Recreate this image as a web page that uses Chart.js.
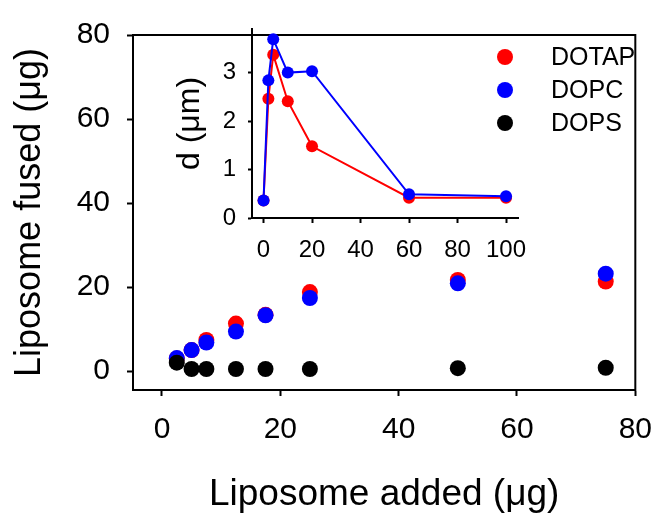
<!DOCTYPE html>
<html>
<head>
<meta charset="utf-8">
<title>Liposome fusion</title>
<script src="https://cdn.jsdelivr.net/npm/chart.js@4/dist/chart.umd.min.js"></script>
<style>
  body { margin: 0; background: #fff; }
  #wrap { position: relative; width: 668px; height: 517px; }
  #main { position: absolute; left: 0; top: 0; }
  #inset { position: absolute; left: 160px; top: 0; }
  #legend { position: absolute; left: 497px; top: 40px; font: 25px "Liberation Sans", Arial, sans-serif; color: #000; }
  #legend .item { height: 33px; display: flex; align-items: center; }
  #legend .dot { width: 16px; height: 16px; border-radius: 50%; margin-right: 38px; }
</style>
</head>
<body>
<div id="wrap">
  <canvas id="main" width="668" height="517"></canvas>
  <canvas id="inset" width="380" height="270"></canvas>
  <div id="legend"></div>
</div>
<script>
// main plot: liposome added vs fused (ug)
const addedUg = [2.5, 5, 7.5, 12.5, 17.5, 25, 50, 75];
const fusedDOTAP = [3.0, 5.0, 7.4, 11.3, 13.4, 18.8, 21.7, 21.3];
const fusedDOPC = [3.1, 5.0, 6.8, 9.4, 13.3, 17.4, 20.9, 23.2];
const fusedDOPS = [2.0, 0.5, 0.5, 0.5, 0.5, 0.5, 0.7, 0.8];

// inset: particle size d (um)
const insetX = [0, 2, 4, 10, 20, 60, 100];
const sizeDOTAP = [0.36, 2.46, 3.37, 2.41, 1.48, 0.42, 0.42];
const sizeDOPC = [0.36, 2.84, 3.69, 3.00, 3.03, 0.49, 0.45];

const seriesNames = ['DOTAP', 'DOPC', 'DOPS'];
const seriesColors = ['#ff0000', '#0000ff', '#000000'];

const mainXTicks = [0, 20, 40, 60, 80];
const mainYTicks = [0, 20, 40, 60, 80];
const insetXTicks = [0, 20, 40, 60, 80, 100];
const insetYTicks = [0, 1, 2, 3];

Chart.defaults.font.family = '"Liberation Sans", Arial, sans-serif';
Chart.defaults.color = '#000';

const pairs = (xs, ys) => xs.map((x, i) => ({ x: x, y: ys[i] }));

const frame = {
    id: 'frame',
    afterDraw(chart) {
        const { ctx, chartArea: a } = chart;
        ctx.save();
        ctx.strokeStyle = '#000';
        ctx.lineWidth = 2;
        ctx.strokeRect(a.left, a.top, a.right - a.left, a.bottom - a.top);
        ctx.restore();
    }
};

function axis(min, max, tickValues, opts) {
    return {
        type: 'linear',
        min: min,
        max: max,
        afterBuildTicks: s => { s.ticks = tickValues.map(v => ({ value: v })); },
        afterFit: opts.fit,
        border: { color: '#000', width: 2 },
        grid: { drawOnChartArea: false, tickLength: opts.tick, tickColor: '#000', tickWidth: 2 },
        ticks: { color: '#000', padding: opts.pad, font: { size: opts.size } },
        title: {
            display: true,
            text: opts.title,
            color: '#000',
            font: { size: opts.titleSize },
            padding: opts.titlePad
        }
    };
}

const mainData = [fusedDOTAP, fusedDOPC, fusedDOPS];

new Chart(document.querySelector('#main'), {
    type: 'scatter',
    data: {
        datasets: seriesNames.map((name, i) => ({
            label: name,
            data: pairs(addedUg, mainData[i]),
            backgroundColor: seriesColors[i],
            borderWidth: 0,
            pointRadius: 8,
            order: 3 - i
        }))
    },
    options: {
        responsive: false,
        animation: false,
        layout: { padding: { top: 29, right: 20, left: 0, bottom: 0 } },
        plugins: { legend: { display: false }, tooltip: { enabled: false } },
        scales: {
            x: axis(-4.9, 80, mainXTicks, {
                fit: s => { s.height = 127; },
                tick: 6, pad: 16, size: 30,
                title: 'Liposome added (μg)', titleSize: 37, titlePad: { top: 0, bottom: 0 }
            }),
            y: axis(-4.5, 80, mainYTicks, {
                fit: s => { s.width = 133; },
                tick: 6, pad: 17, size: 30,
                title: 'Liposome fused (μg)', titleSize: 36, titlePad: { top: 8, bottom: 0 }
            })
        }
    },
    plugins: [frame]
});

const insetData = [sizeDOTAP, sizeDOPC];

new Chart(document.querySelector('#inset'), {
    type: 'line',
    data: {
        datasets: insetData.map((ys, i) => ({
            label: seriesNames[i],
            data: pairs(insetX, ys),
            borderColor: seriesColors[i],
            backgroundColor: seriesColors[i],
            borderWidth: 2,
            pointRadius: 6,
            pointBorderWidth: 0,
            tension: 0,
            order: 2 - i
        }))
    },
    options: {
        responsive: false,
        animation: false,
        layout: { padding: { top: 29, right: 20, left: 0, bottom: 0 } },
        plugins: { legend: { display: false }, tooltip: { enabled: false } },
        scales: {
            x: axis(-4.75, 105.2, insetXTicks, {
                fit: s => { s.height = 52; },
                tick: 5, pad: 13, size: 24,
                title: '', titleSize: 24, titlePad: 0
            }),
            y: axis(0, 3.9, insetYTicks, {
                fit: s => { s.width = 92; },
                tick: 4, pad: 12, size: 24,
                title: 'd (μm)', titleSize: 32, titlePad: { top: 11, bottom: 0 }
            })
        }
    }
});

// legend, built from the series names and colours
const legend = document.querySelector('#legend');
seriesNames.forEach((name, i) => {
    const row = document.createElement('div');
    row.className = 'item';
    const dot = document.createElement('span');
    dot.className = 'dot';
    dot.style.background = seriesColors[i];
    row.appendChild(dot);
    row.appendChild(document.createTextNode(name));
    legend.appendChild(row);
});
</script>
</body>
</html>
